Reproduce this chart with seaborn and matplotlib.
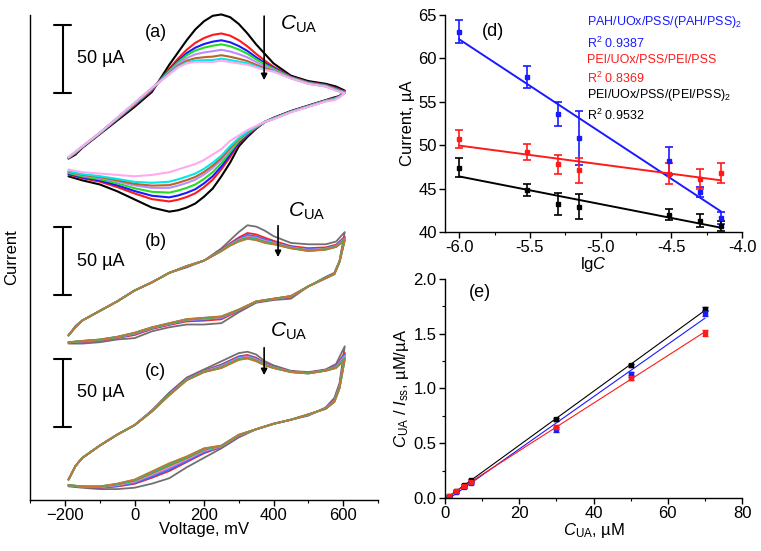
import matplotlib
matplotlib.use("Agg")
import matplotlib.pyplot as plt
from matplotlib import font_manager as fm
from matplotlib.ticker import MultipleLocator, AutoMinorLocator, FormatStrFormatter
import numpy as np
import pandas as pd
import seaborn as sns

sns.set_style("ticks", {"axes.edgecolor": "black", "xtick.color": "black", "ytick.color": "black",
                        "text.color": "black", "axes.labelcolor": "black"})
plt.rcParams["font.family"] = ["Liberation Sans", "DejaVu Sans"]
plt.rcParams["mathtext.fontset"] = "custom"
plt.rcParams["mathtext.rm"] = "Liberation Sans"
it_file = fm.findfont(fm.FontProperties(family="Liberation Sans", style="italic"))
if "italic" in it_file.lower():
    plt.rcParams["mathtext.it"] = "Liberation Sans:italic"
else:
    plt.rcParams["mathtext.it"] = "DejaVu Sans:italic"

# ---------------- CV data (current in uA, panels offset) ----------------
a_E_fwd = [-190, -170, -150, -100, -50, 0, 50, 100, 125, 150, 175, 200, 225, 250, 275, 300,
           325, 350, 375, 400, 450, 500, 550, 580, 605]
a_E_rev = [605, 590, 575, 550, 500, 450, 400, 375, 350, 325, 300, 275, 250, 225, 200, 175,
           150, 125, 100, 50, 0, -50, -100, -150, -190]
a_outer_fwd = [251, 254, 259, 269, 279, 289, 300, 320, 329, 338, 346, 352, 356, 357, 355, 350,
               343, 335, 328, 321, 312, 308, 306, 304, 301]
a_inner_fwd = [252, 256, 260, 270, 281, 292, 303, 313, 318, 321, 322, 322, 322, 323, 322, 321,
               320, 318, 316, 315, 310, 306, 304, 301, 299]
a_outer_rev = [301, 297, 296, 294, 290, 286, 281, 278, 273, 267, 260, 248, 238, 229, 223, 218,
               215, 213, 212, 215, 221, 227, 232, 235, 238]
a_inner_rev = [299, 296, 294, 293, 289, 285, 280, 278, 275, 272, 268, 264, 258, 254, 250, 247,
               245, 243, 241, 239, 238, 239, 240, 241, 243]
a_colors = ["black", "#ff1a1a", "#1a1aff", "#22dd22", "#bb8cff", "#b8652a", "#00e8e8", "#ffaaee"]
a_peaks = [357, 343, 338, 335, 331, 327, 324.5, 323]
a_troughs = [212, 219.5, 222.5, 226, 229.5, 231.5, 234, 241]

E_fwd = [-190, -170, -150, -100, -50, 0, 50, 100, 150, 200, 250, 275, 300, 325, 350, 375, 400,
         450, 500, 550, 580, 605]
E_rev = [605, 590, 575, 550, 500, 450, 400, 350, 300, 250, 200, 150, 100, 50, 0, -50, -100, -150, -190]

b_outer_fwd = [121, 128, 132, 139, 146, 154, 160, 167, 171, 176, 185, 191, 197, 202, 201, 198, 194,
               189, 188, 188, 190, 197]
b_inner_fwd = [121, 127, 132, 139, 146, 154, 160, 167, 172, 176, 183, 187, 190, 192, 191, 189, 188,
               185, 183, 184, 186, 191]
b_outer_rev = [197, 176, 167, 164, 157, 148, 147, 145, 138, 130, 129, 129, 127, 124, 119, 118, 116, 115, 115]
b_inner_rev = [191, 175, 166, 163, 157, 150, 148, 146, 140, 135, 134, 133, 130, 127, 123, 120, 118, 117, 116]
b_peaks = [202, 196.3, 194.9, 194.1, 193.4, 193.0, 192.6, 192.3, 192]

c_outer_fwd = [15, 25, 31, 40, 48, 55, 66, 79, 90, 96, 102, 105, 108, 109, 107, 102, 99,
               95, 94, 96, 100, 113]
c_inner_fwd = [15, 25, 31, 40, 48, 55, 65, 77, 88, 94, 97, 100, 103, 104, 102, 99, 97,
               94, 93, 95, 97, 103]
c_outer_rev = [113, 86, 75, 68, 62, 59, 56, 52, 46, 38, 31, 24, 16, 12, 9, 8, 8, 9, 10]
c_inner_rev = [103, 82, 72, 67, 63, 59, 56, 52, 48, 40, 38, 32, 27, 21, 15, 12, 10, 10, 11]
c_peaks = [109, 106.6, 106.2, 105.6, 105.2, 104.8, 104.4, 104.2, 104]

bc_colors = ["#707070", "#ff2020", "#2b6cff", "#a070e0", "#ff88dd", "#8a8a20", "#30c030", "#00cccc", "#c07830"]

# ---------------- (d) ----------------
lgC = [-6.0, -5.52, -5.30, -5.15, -4.52, -4.30, -4.15]
pah_I = [63.1, 57.9, 53.6, 50.8, 48.2, 44.6, 41.6]
pah_err = [1.35, 1.25, 1.35, 3.1, 1.6, 0.6, 0.7]
pei_I = [50.7, 49.25, 47.8, 47.1, 46.7, 46.1, 46.8]
pei_err = [1.05, 0.9, 1.1, 1.4, 1.2, 1.15, 1.15]
pei2_I = [47.4, 44.8, 43.2, 42.9, 42.0, 41.3, 40.7]
pei2_err = [1.1, 0.7, 1.25, 1.45, 0.6, 0.75, 0.6]

d_labels = [r"PAH/UOx/PSS/(PAH/PSS)$_2$", "R$^2$ 0.9387",
            "PEI/UOx/PSS/PEI/PSS", "R$^2$ 0.8369",
            r"PEI/UOx/PSS/(PEI/PSS)$_2$", "R$^2$ 0.9532"]
d_colors = ["#1a1aff", "#ff1a1a", "black"]

# ---------------- (e) ----------------
C_ua = [1, 3, 5, 7, 30, 50, 70]
e_black = [0.02, 0.065, 0.115, 0.16, 0.718, 1.21, 1.725]
e_black_err = [0.01, 0.01, 0.012, 0.012, 0.015, 0.018, 0.022]
e_blue = [0.01, 0.055, 0.10, 0.14, 0.626, 1.13, 1.69]
e_blue_err = [0.01, 0.01, 0.01, 0.012, 0.025, 0.025, 0.03]
e_red = [0.015, 0.06, 0.105, 0.15, 0.65, 1.10, 1.505]
e_red_err = [0.01, 0.01, 0.01, 0.012, 0.02, 0.025, 0.03]


def cv_frame(E_f, E_r, out_f, in_f, out_r, in_r, w_f, w_r, colors):
    out_f, in_f, out_r, in_r = map(np.asarray, (out_f, in_f, out_r, in_r))
    frames = []
    for col, wf, wr in zip(colors, w_f, w_r):
        cur = np.concatenate([in_f + wf * (out_f - in_f), in_r + wr * (out_r - in_r)])
        frames.append(pd.DataFrame({"E": E_f + E_r, "I": cur, "curve": col}))
    return pd.concat(frames, ignore_index=True)


def fwd_weights(out_f, in_f, peaks):
    k = int(np.argmax(in_f))
    return [(p - in_f[k]) / (out_f[k] - in_f[k]) for p in peaks]


fig = plt.figure(figsize=(7.61, 5.51), dpi=100)
ax_cv = fig.add_axes([0.0398, 0.0926, 0.4566, 0.8802])
ax_d = fig.add_axes([0.5848, 0.5789, 0.3903, 0.3938])
ax_e = fig.add_axes([0.5848, 0.0962, 0.3903, 0.3975])

wa_f = fwd_weights(a_outer_fwd, a_inner_fwd, a_peaks)
k = int(np.argmin(a_outer_rev))
wa_r = [(a_inner_rev[k] - t) / (a_inner_rev[k] - a_outer_rev[k]) for t in a_troughs]
wb = fwd_weights(b_outer_fwd, b_inner_fwd, b_peaks)
wc = fwd_weights(c_outer_fwd, c_inner_fwd, c_peaks)

panels = [
    (cv_frame(a_E_fwd, a_E_rev, a_outer_fwd, a_inner_fwd, a_outer_rev, a_inner_rev, wa_f, wa_r, a_colors),
     a_colors, 1.5),
    (cv_frame(E_fwd, E_rev, b_outer_fwd, b_inner_fwd, b_outer_rev, b_inner_rev, wb, wb, bc_colors),
     bc_colors, 1.3),
    (cv_frame(E_fwd, E_rev, c_outer_fwd, c_inner_fwd, c_outer_rev, c_inner_rev, wc, wc, bc_colors),
     bc_colors, 1.3),
]
for df_cv, cols, lw in panels:
    sns.lineplot(data=df_cv, x="E", y="I", hue="curve", palette={c: c for c in cols},
                 hue_order=cols, estimator=None, sort=False, lw=lw, legend=False,
                 ax=ax_cv, clip_on=False, solid_joinstyle="round")

ax_cv.set_xlim(-300, 700)
ax_cv.set_ylim(0, 356.6)
ax_cv.set_yticks([])
ax_cv.xaxis.set_minor_locator(AutoMinorLocator(2))
ax_cv.set_xticks([-200, 0, 200, 400, 600])
ax_cv.set_xlabel("Voltage, mV", fontsize=12, labelpad=-1)
ax_cv.set_ylabel("Current", fontsize=12, labelpad=8)

bar_x = -207
bar_bottoms = [299.5, 150.7, 53.9]
letters = ["(a)", "(b)", "(c)"]
letter_y = [344, 190, 94.4]
for yb, let, ly in zip(bar_bottoms, letters, letter_y):
    ax_cv.plot([bar_x, bar_x], [yb, yb + 50], color="black", lw=1.5)
    for yy in (yb, yb + 50):
        ax_cv.plot([bar_x - 25, bar_x + 25], [yy, yy], color="black", lw=1.5)
    ax_cv.text(-165, yb + 25, "50 µA", fontsize=13, va="center", ha="left")
    ax_cv.text(61, ly, let, fontsize=13, va="center", ha="center")

arrow_x = [373, 413, 373]
arrow_y = [(357.8, 306.6), (203.7, 176.5), (114, 89.7)]
cua_pos = [(419, 345.6), (442, 208.3), (390, 120.1)]
for xa, (y0, y1), (tx, ty) in zip(arrow_x, arrow_y, cua_pos):
    ax_cv.annotate("", xy=(xa, y1), xytext=(xa, y0),
                   arrowprops=dict(arrowstyle="-|>", color="black", lw=1.2, mutation_scale=9))
    ax_cv.text(tx, ty, r"$C_{\mathrm{UA}}$", fontsize=15, va="baseline", ha="left")

d_sets = [(pah_I, pah_err), (pei_I, pei_err), (pei2_I, pei2_err)]
for (yv, ye), col in zip(d_sets, d_colors):
    ax_d.errorbar(lgC, yv, yerr=ye, fmt="s", ms=2.5, color=col, ecolor=col,
                  elinewidth=1.2, capsize=3, capthick=1.2)
    slope, icpt = np.polyfit(lgC, yv, 1)
    fit = pd.DataFrame({"x": [lgC[0], lgC[-1]]})
    fit["y"] = slope * fit["x"] + icpt
    sns.lineplot(data=fit, x="x", y="y", color=col, lw=1.4, ax=ax_d)

ax_d.set_xlim(-6.1, -4.0)
ax_d.set_ylim(40, 65)
ax_d.xaxis.set_major_locator(MultipleLocator(0.5))
ax_d.xaxis.set_minor_locator(AutoMinorLocator(2))
ax_d.xaxis.set_major_formatter(FormatStrFormatter("%.1f"))
ax_d.yaxis.set_major_locator(MultipleLocator(5))
ax_d.set_xlabel(r"lg$C$", fontsize=12, labelpad=0)
ax_d.set_ylabel("Current, µA", fontsize=12, labelpad=2)
ax_d.text(0.162, 0.922, "(d)", transform=ax_d.transAxes, fontsize=13, ha="center", va="center")
lab_y = [0.968, 0.871, 0.793, 0.710, 0.631, 0.539]
for i, (lab, yy) in enumerate(zip(d_labels, lab_y)):
    ax_d.text(0.478, yy, lab, transform=ax_d.transAxes, fontsize=9,
              color=d_colors[i // 2], ha="left", va="center")

e_sets = [(e_black, e_black_err, "black"), (e_blue, e_blue_err, "#1a1aff"), (e_red, e_red_err, "#ff1a1a")]
for yv, ye, col in e_sets:
    ax_e.errorbar(C_ua, yv, yerr=ye, fmt="s", ms=2.5, color=col, ecolor=col,
                  elinewidth=1.0, capsize=2, capthick=1.0)
    slope, icpt = np.polyfit(C_ua, yv, 1)
    fit = pd.DataFrame({"x": [C_ua[0], C_ua[-1]]})
    fit["y"] = slope * fit["x"] + icpt
    sns.lineplot(data=fit, x="x", y="y", color=col, lw=0.8, ax=ax_e)

ax_e.set_xlim(0, 80)
ax_e.set_ylim(0, 2.0)
ax_e.xaxis.set_major_locator(MultipleLocator(20))
ax_e.xaxis.set_minor_locator(AutoMinorLocator(2))
ax_e.yaxis.set_major_locator(MultipleLocator(0.5))
ax_e.yaxis.set_minor_locator(AutoMinorLocator(2))
ax_e.yaxis.set_major_formatter(FormatStrFormatter("%.1f"))
ax_e.set_xlabel(r"$C_{\mathrm{UA}}$, µM", fontsize=12, labelpad=0)
ax_e.set_ylabel(r"$C_{\mathrm{UA}}$ / $I_{\mathrm{ss}}$, µM/µA", fontsize=12, labelpad=2)
ax_e.text(0.118, 0.94, "(e)", transform=ax_e.transAxes, fontsize=13, ha="center", va="center")

for ax in (ax_cv, ax_d, ax_e):
    sns.despine(ax=ax)
    ax.tick_params(which="major", direction="out", length=4, width=1, labelsize=12, pad=2)
    ax.tick_params(which="minor", direction="out", length=2.5, width=0.8)
    for s in ("left", "bottom"):
        ax.spines[s].set_linewidth(1.0)
    ax.grid(False)

fig.savefig("out.png", dpi=100)
